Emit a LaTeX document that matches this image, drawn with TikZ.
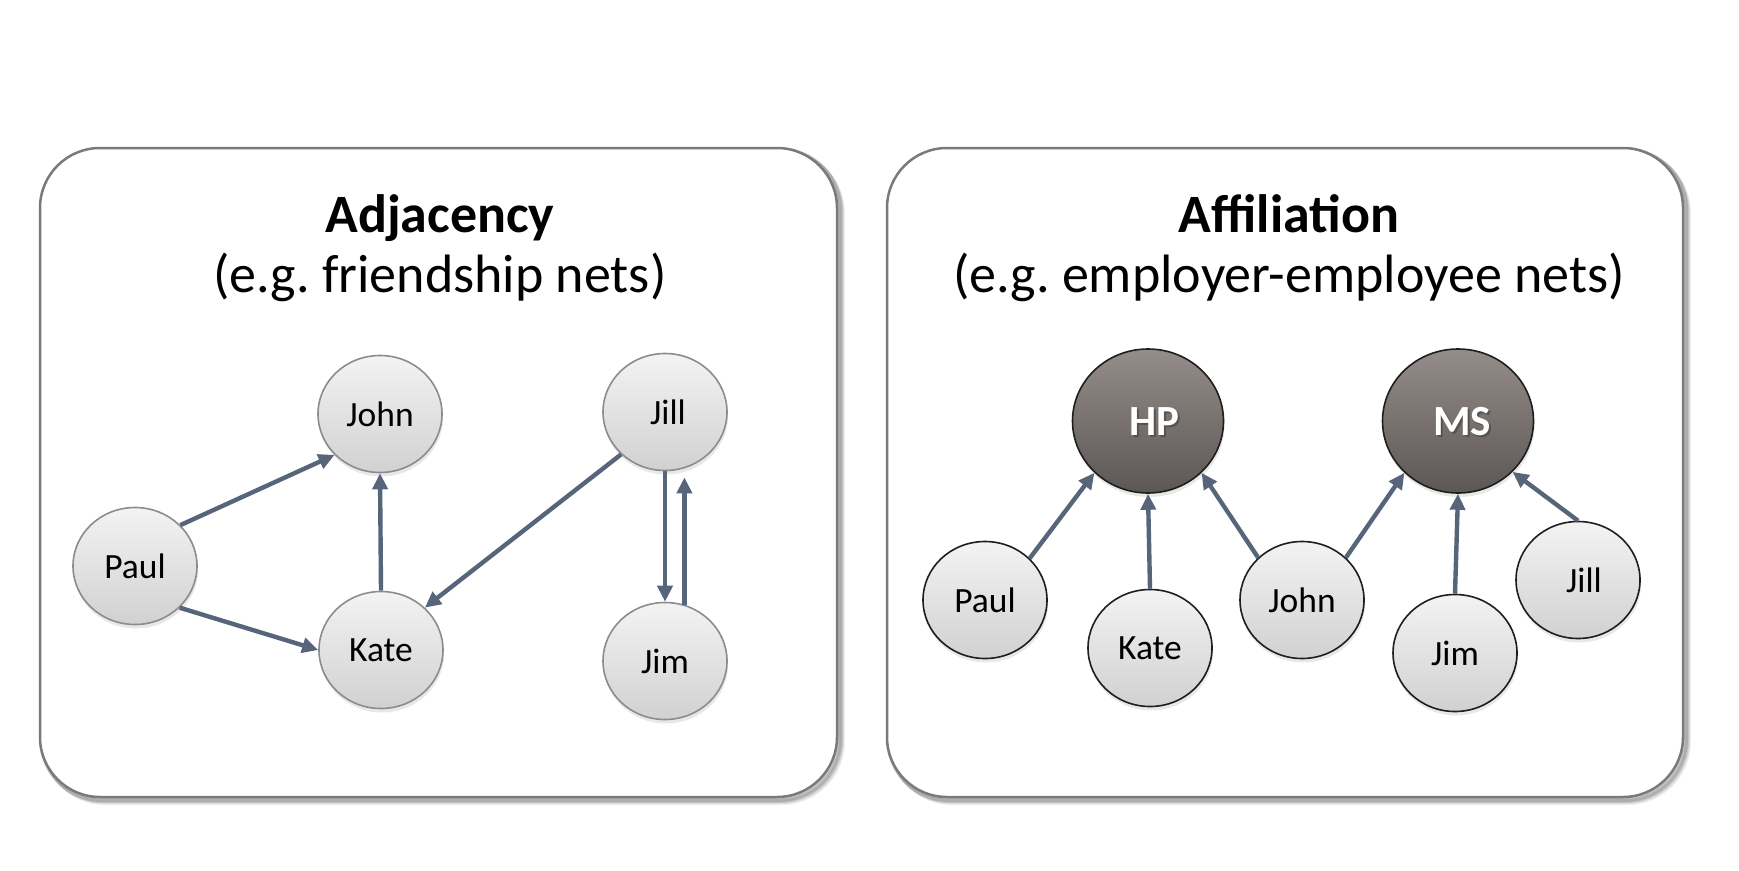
\documentclass[tikz,border=0pt]{standalone}
\usepackage{fontspec}
\setmainfont{Carlito}
\usetikzlibrary{arrows.meta,shapes.geometric,shadows}
\definecolor{arr}{HTML}{56657A}
\definecolor{boxline}{HTML}{7A7A7A}
\definecolor{ntop}{HTML}{F4F3F3}
\definecolor{nbot}{HTML}{D2D1D1}
\definecolor{nborderA}{HTML}{8C8C8C}
\definecolor{nborderB}{HTML}{1E1E1E}
\definecolor{ctop}{HTML}{948D8A}
\definecolor{cbot}{HTML}{5C5654}
\frenchspacing
\begin{document}
\begin{tikzpicture}[x=1pt,y=-1pt,
  panel/.style={draw=boxline, line width=2.5pt, rounded corners=60pt},
  panelshadow/.style={draw=black, line width=6pt, rounded corners=60pt},
  basenode/.style={ellipse, line width=1.6pt, top color=ntop, bottom color=nbot,
    minimum width=124pt, minimum height=117pt, inner sep=0pt,
    font=\fontsize{35.5}{40}\selectfont,
    drop shadow={shadow xshift=1pt, shadow yshift=-4pt, opacity=0.18}},
  anode/.style={basenode, draw=nborderA},
  bnode/.style={basenode, draw=nborderB},
  cnode/.style={ellipse, draw=nborderB, line width=1.6pt, top color=ctop, bottom color=cbot,
    minimum width=151pt, minimum height=144pt, inner sep=0pt,
    drop shadow={shadow xshift=1pt, shadow yshift=-4pt, opacity=0.18}},
  ctext/.style={font=\fontsize{43}{48}\selectfont\bfseries, inner sep=0pt},
  edge/.style={draw=arr, line width=4.4pt, -{Triangle[length=16pt,width=15pt]}},
  title/.style={font=\fontsize{54}{60}\selectfont\bfseries, anchor=base, inner sep=0pt},
  subtitle/.style={font=\fontsize{54}{60}\selectfont, anchor=base, inner sep=0pt}
]
\useasboundingbox (0,0) rectangle (1739,870);
\fill[white] (0,0) rectangle (1739,870);

% panels with soft shadow
\foreach \o/\op in {5/0.06,4/0.08,3/0.10,2/0.12}{
  \draw[panelshadow, opacity=\op] (40+\o,148+\o) rectangle (837+\o,797+\o);
  \draw[panelshadow, opacity=\op] (887+\o,148+\o) rectangle (1683+\o,797+\o);
}
\filldraw[panel, fill=white] (40,148) rectangle (837,797);
\filldraw[panel, fill=white] (887,148) rectangle (1683,797);

% titles
\node[title] (adjT) at (440,232) {Adjacency};
\node[subtitle] (adjS) at (440,292) {(e.g. friendship nets)};
\node[title] (affT) at (1289,232) {Affiliation};
\node[subtitle] (affS) at (1289,292) {(e.g. employer-employee nets)};

% adjacency nodes
\node[anode] (lJohn) at (380,414) {John};
\node[anode] (lJill) at (665,412) {\hspace*{6pt}Jill};
\node[anode] (lPaul) at (135,566) {Paul};
\node[anode] (lKate) at (381,650) {Kate};
\node[anode] (lJim)  at (665,661) {Jim};

% adjacency edges
\draw[edge] (lPaul.42) -- (lJohn.222);
\draw[edge] (lPaul.-43) -- (lKate.180);
\draw[edge] (lKate.north) -- (lJohn.south);
\draw[edge] (lJill.224) -- (lKate.44);
\draw[edge] (lJill.south) -- (lJim.north);
\draw[edge, shorten >=9pt] (lJim.71) -- (lJill.-71);

% affiliation nodes
\node[cnode] (HP) at (1148,421) {};
\node[ctext, text=black!75, opacity=0.6] (HPs) at (1156,424) {HP};
\node[ctext, text=white] (HPt) at (1154,422) {HP};
\node[cnode] (MS) at (1458,421) {};
\node[ctext, text=black!75, opacity=0.6] (MSs) at (1464,424) {MS};
\node[ctext, text=white] (MSt) at (1462,422) {MS};

\node[bnode] (rPaul) at (985,600) {Paul};
\node[bnode] (rKate) at (1150,648) {Kate};
\node[bnode] (rJohn) at (1302,600) {John};
\node[bnode] (rJim)  at (1455,653) {Jim};
\node[bnode] (rJill) at (1578,580) {\hspace*{12pt}Jill};

% affiliation edges
\draw[edge] (rPaul.43) -- (HP.224);
\draw[edge] (rKate.north) -- (HP.south);
\draw[edge] (rJohn.136) -- (HP.-44);
\draw[edge] (rJohn.44) -- (MS.224);
\draw[edge] (rJim.north) -- (MS.south);
\draw[edge] (rJill.north) -- (MS.-43);
\end{tikzpicture}
\end{document}
